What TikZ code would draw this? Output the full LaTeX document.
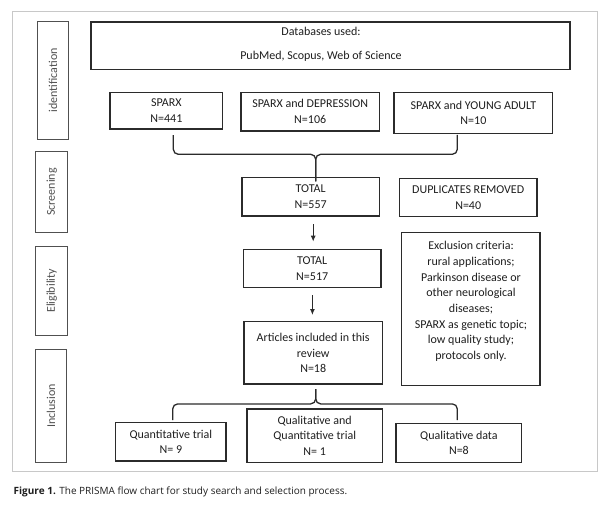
\documentclass[tikz,border=0pt]{standalone}
\usepackage{fontspec}
\setmainfont{Carlito}
\newfontfamily\capfont{Open Sans}
\usetikzlibrary{arrows.meta,calc}
\definecolor{boxc}{HTML}{2B2B2B}
\definecolor{sidec}{HTML}{505050}
\definecolor{framec}{HTML}{C8C8C8}
\definecolor{txtc}{HTML}{1E1E1E}
\begin{document}
\begin{tikzpicture}[x=1pt,y=-1pt,
  every node/.style={inner sep=0pt, outer sep=0pt},
  boxtxt/.style={font=\fontsize{12}{15.7}\selectfont, text=txtc, align=center},
  flowbox/.style={draw=boxc, line width=1.3pt, boxtxt},
  sidebox/.style={draw=sidec, line width=1pt, minimum width=31.5pt,
    font=\fontsize{12}{13}\selectfont, text=sidec},
  brace/.style={draw=boxc, line width=1.3pt, rounded corners=5pt},
  arr/.style={draw=boxc, line width=1.3pt, -{Latex[length=6pt,width=5pt]}}]
\useasboundingbox (0,0) rectangle (616,508);
% outer frame
\draw[framec, line width=0.8pt] (12.3,11) rectangle (597.3,471.3);
% side labels
\node[sidebox, minimum height=117.3pt] (ident) at (52.9,80.4) {\rotatebox{90}{identification}};
\node[sidebox, minimum height=80.6pt] (screen) at (51.7,192) {\rotatebox{90}{Screening}};
\node[sidebox, minimum height=88.3pt] (elig) at (51.7,290.9) {\rotatebox{90}{Eligibility}};
\node[sidebox, minimum height=113.3pt] (incl) at (50.9,405.7) {\rotatebox{90}{Inclusion}};
% boxes
\node[flowbox, minimum width=479pt, minimum height=47.7pt] (db) at (330.5,45.85) {};
\node[boxtxt, font=\fontsize{12}{23.7}\selectfont] (dbtext) at (321,44.6) {Databases used:\\PubMed, Scopus, Web of Science};
\node[flowbox, minimum width=112.7pt, minimum height=36.7pt] (sparx) at (166.4,110.7) {SPARX\\N=441};
\node[flowbox, minimum width=138.3pt, minimum height=38.7pt] (dep) at (310.2,111.7) {SPARX and DEPRESSION\\N=106};
\node[flowbox, minimum width=158.7pt, minimum height=41.4pt] (ya) at (473.4,113) {SPARX and YOUNG ADULT\\N=10};
\node[flowbox, minimum width=137.6pt, minimum height=38.3pt] (t557) at (310.7,196.9) {TOTAL\\N=557};
\node[flowbox, minimum width=137.6pt, minimum height=38.4pt] (dup) at (468.2,197.5) {DUPLICATES REMOVED\\N=40};
\node[flowbox, minimum width=137.6pt, minimum height=38.4pt] (t517) at (312.2,268.5) {TOTAL\\N=517};
\node[flowbox, minimum width=138.6pt, minimum height=152.6pt] (excl) at (470.7,309) {};
\node[boxtxt] (excltext) at (471,301.5) {Exclusion criteria:\\rural applications;\\Parkinson disease or\\other neurological\\diseases;\\SPARX as genetic topic;\\low quality study;\\protocols only.};
\node[flowbox, minimum width=138.3pt, minimum height=62.3pt] (art) at (313.2,352.9) {Articles included in this\\review\\N=18};
\node[flowbox, minimum width=110.3pt, minimum height=38.7pt] (quant) at (170.9,441.7) {Quantitative trial\\N= 9};
\node[flowbox, minimum width=135.3pt, minimum height=53.3pt] (qq) at (314.7,435.7) {Qualitative and\\Quantitative trial\\N= 1};
\node[flowbox, minimum width=125.7pt, minimum height=38.6pt] (qual) at (458.9,443) {Qualitative data\\N=8};
% top brace
\coordinate (b1l) at ($(sparx.south)+(6.9,6)$);
\coordinate (b1r) at ($(ya.south)+(-16.1,1.3)$);
\coordinate (b1m) at (315.7,154.3);
\coordinate (b1t) at ($(t557.north)+(5,3.7)$);
\draw[brace] (b1l) |- (b1m) -- (b1m |- b1t);
\draw[brace] (b1r) |- (b1m) -- (b1m |- b1t);
% bottom brace
\coordinate (b2t) at ($(art.south)+(2.5,5)$);
\coordinate (b2m) at (315.7,403.9);
\coordinate (b2l) at ($(quant.north)+(1.8,-2.3)$);
\coordinate (b2r) at ($(qual.north)+(-1.6,-3.7)$);
\draw[brace] (b2l) |- (b2m) -- (b2m |- b2t);
\draw[brace] (b2r) |- (b2m) -- (b2m |- b2t);
% arrows
\coordinate (a1s) at ($(t557.south)+(2.5,8)$);
\coordinate (a1e) at ($(t517.north)+(0,-7.6)$);
\draw[arr] (a1s) -- (a1s |- a1e);
\coordinate (a2s) at ($(t517.south)+(0.2,7.3)$);
\coordinate (a2e) at ($(art.north)+(0,-6.7)$);
\draw[arr] (a2s) -- (a2s |- a2e);
% caption
\node[anchor=west, font=\capfont\fontsize{10}{12}\selectfont, text=txtc] (cap) at (13.7,492.3) {\textbf{Figure 1.} The PRISMA flow chart for study search and selection process.};
\end{tikzpicture}
\end{document}
